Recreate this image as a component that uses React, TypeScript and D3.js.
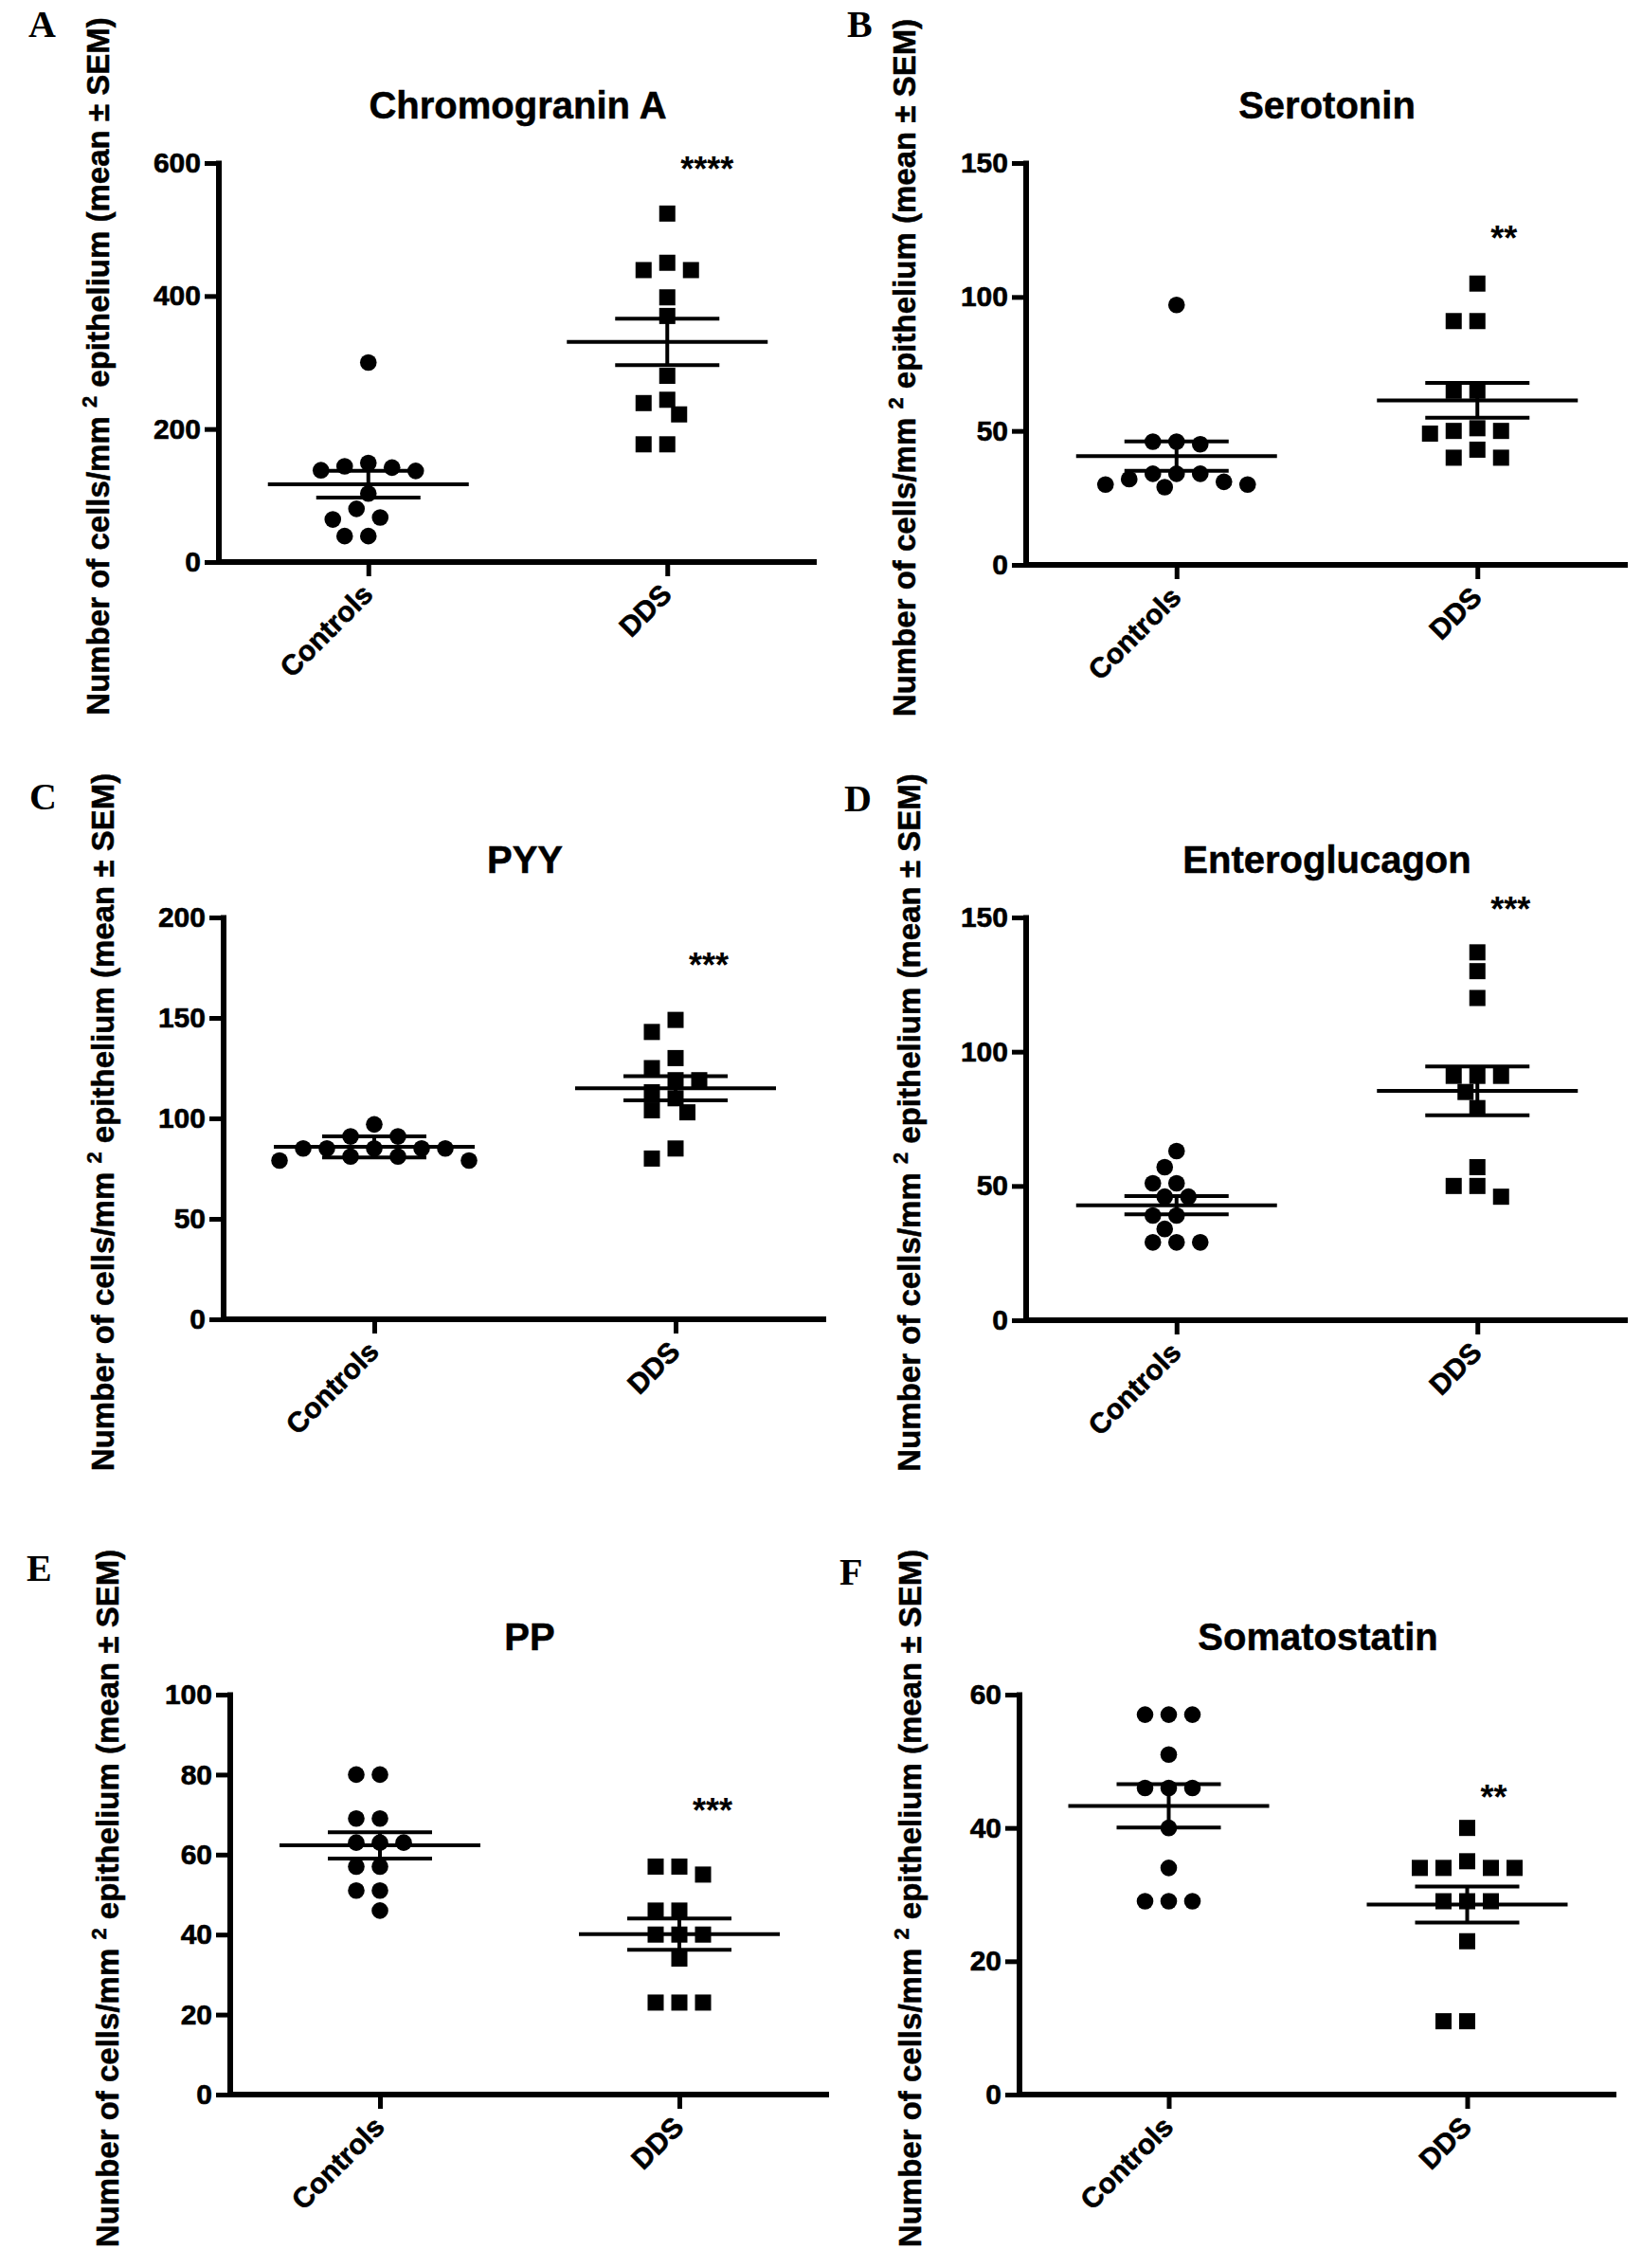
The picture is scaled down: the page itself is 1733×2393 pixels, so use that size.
import { useEffect, useRef } from "react"
import * as d3 from "d3"

const groups = ["Controls", "DDS"]

// Chromogranin A
const chromograninControls = [300, 149, 144, 142, 138, 137, 103, 80, 67, 64, 39, 39]
const chromograninDds = [524, 450, 439, 439, 398, 370, 280, 244, 239, 222, 177, 177]
const chromograninMean = [117, 331]
const chromograninSem = [20, 35]
const chromograninTicks = [0, 200, 400, 600]

// Serotonin
const serotoninControls = [97, 46, 46, 45, 34, 34, 34, 32, 31, 30, 30, 29]
const serotoninDds = [105, 91, 91, 65, 65, 51, 50, 50, 49, 43, 40, 40]
const serotoninMean = [40.6, 61.4]
const serotoninSem = [5.5, 6.5]
const serotoninTicks = [0, 50, 100, 150]

// PYY
const pyyControls = [97, 91, 91, 85, 85, 85, 85, 85, 81, 81, 79, 79]
const pyyDds = [149, 143, 130, 125, 119, 119, 113, 110, 104, 103, 85, 80]
const pyyMean = [85.8, 115]
const pyySem = [5.2, 6]
const pyyTicks = [0, 50, 100, 150, 200]

// Enteroglucagon
const enteroglucagonControls = [63, 57, 51, 51, 46, 46, 39, 39, 34, 29, 29, 29]
const enteroglucagonDds = [137, 130, 120, 91, 91, 91, 85, 79, 57, 50, 50, 46]
const enteroglucagonMean = [42.8, 85.4]
const enteroglucagonSem = [3.4, 9.1]
const enteroglucagonTicks = [0, 50, 100, 150]

// PP
const ppControls = [80, 80, 69, 69, 63, 63, 63, 57, 57, 51, 51, 46]
const ppDds = [57, 57, 55, 46, 46, 40, 40, 40, 34, 23, 23, 23]
const ppMean = [62.3, 40.1]
const ppSem = [3.3, 3.9]
const ppTicks = [0, 20, 40, 60, 80, 100]

// Somatostatin
const somatostatinControls = [57, 57, 57, 51, 46, 46, 46, 40, 34, 29, 29, 29]
const somatostatinDds = [40, 35, 34, 34, 34, 34, 29, 29, 29, 23, 11, 11]
const somatostatinMean = [43.3, 28.5]
const somatostatinSem = [3.25, 2.7]
const somatostatinTicks = [0, 20, 40, 60]

const panelLetters = ["A", "B", "C", "D", "E", "F"]
const panelTitles = ["Chromogranin A", "Serotonin", "PYY", "Enteroglucagon", "PP", "Somatostatin"]
const significance = ["****", "**", "***", "***", "***", "**"]
// value level at which the asterisks sit
const significanceLevel = [603, 125, 180, 156, 73, 45.8]

const panels = [
  { controls: chromograninControls, dds: chromograninDds, mean: chromograninMean, sem: chromograninSem, ticks: chromograninTicks },
  { controls: serotoninControls, dds: serotoninDds, mean: serotoninMean, sem: serotoninSem, ticks: serotoninTicks },
  { controls: pyyControls, dds: pyyDds, mean: pyyMean, sem: pyySem, ticks: pyyTicks },
  { controls: enteroglucagonControls, dds: enteroglucagonDds, mean: enteroglucagonMean, sem: enteroglucagonSem, ticks: enteroglucagonTicks },
  { controls: ppControls, dds: ppDds, mean: ppMean, sem: ppSem, ticks: ppTicks },
  { controls: somatostatinControls, dds: somatostatinDds, mean: somatostatinMean, sem: somatostatinSem, ticks: somatostatinTicks },
]

// page layout of each panel
const layout = [
  { axisX: 231, width: 631, yTop: 172, yBottom: 593, letterX: 30, letterY: 39, labelX: 106 },
  { axisX: 1083, width: 635, yTop: 172, yBottom: 596, letterX: 894, letterY: 39, labelX: 957 },
  { axisX: 236, width: 636, yTop: 968, yBottom: 1392, letterX: 31, letterY: 854, labelX: 111 },
  { axisX: 1083, width: 635, yTop: 968, yBottom: 1393, letterX: 891, letterY: 856, labelX: 962 },
  { axisX: 243, width: 632, yTop: 1788, yBottom: 2210, letterX: 28, letterY: 1668, labelX: 116 },
  { axisX: 1076, width: 630, yTop: 1788, yBottom: 2210, letterX: 886, letterY: 1672, labelX: 963 },
]

const WIDTH = 1733
const HEIGHT = 2393
const SANS = "Arial, 'Liberation Sans', Helvetica, sans-serif"
const SERIF = "'Times New Roman', 'Liberation Serif', serif"

// Prism-like spreading of points that would overlap
function swarm(values: number[], y: d3.ScaleLinear<number, number>, minDist = 18, step = 12.5) {
  const placed: { ox: number; py: number }[] = []
  return values.map((v) => {
    const py = y(v)
    for (let k = 0; k < 50; k++) {
      const cands = k === 0 ? [0] : [-k * step, k * step]
      for (const ox of cands) {
        if (placed.every((q) => Math.hypot(q.ox - ox, q.py - py) >= minDist)) {
          placed.push({ ox, py })
          return ox
        }
      }
    }
    return 0
  })
}

export default function App() {
  const svgRef = useRef<SVGSVGElement>(null)

  useEffect(() => {
    if (!svgRef.current) return
    const svg = d3.select(svgRef.current)
    svg.selectAll("*").remove()
    svg.append("rect").attr("width", WIDTH).attr("height", HEIGHT).attr("fill", "#fff")

    panels.forEach((p, i) => {
      const L = layout[i]
      const g = svg.append("g")

      const x = d3
        .scalePoint<string>()
        .domain(groups)
        .range([L.axisX, L.axisX + L.width])
        .padding(0.5)
      const y = d3
        .scaleLinear()
        .domain([0, d3.max(p.ticks) || 1])
        .range([L.yBottom, L.yTop])

      // Points
      const ctrlOff = swarm(p.controls, y)
      const cx0 = x(groups[0]) || 0
      g.selectAll(".ctrl")
        .data(p.controls)
        .join("circle")
        .attr("cx", (_, j) => cx0 + ctrlOff[j])
        .attr("cy", (d) => y(d))
        .attr("r", 8.8)
        .attr("fill", "#000")

      const ddsOff = swarm(p.dds, y)
      const cx1 = x(groups[1]) || 0
      const sq = 17
      g.selectAll(".dds")
        .data(p.dds)
        .join("rect")
        .attr("x", (_, j) => cx1 + ddsOff[j] - sq / 2)
        .attr("y", (d) => y(d) - sq / 2)
        .attr("width", sq)
        .attr("height", sq)
        .attr("fill", "#000")

      // Mean +- SEM
      groups.forEach((grp, gi) => {
        const cx = x(grp) || 0
        const m = p.mean[gi]
        const s = p.sem[gi]
        const bars = [
          { x1: cx - 106, x2: cx + 106, y1: y(m), y2: y(m) },
          { x1: cx - 55, x2: cx + 55, y1: y(m + s), y2: y(m + s) },
          { x1: cx - 55, x2: cx + 55, y1: y(m - s), y2: y(m - s) },
          { x1: cx, x2: cx, y1: y(m - s), y2: y(m + s) },
        ]
        g.selectAll(null)
          .data(bars)
          .join("line")
          .attr("x1", (d) => d.x1)
          .attr("x2", (d) => d.x2)
          .attr("y1", (d) => d.y1)
          .attr("y2", (d) => d.y2)
          .attr("stroke", "#000")
          .attr("stroke-width", 4)
      })

      // Y axis
      const yAxis = g
        .append("g")
        .attr("transform", `translate(${L.axisX},0)`)
        .call(d3.axisLeft(y).tickValues(p.ticks).tickSizeInner(15).tickSizeOuter(0).tickPadding(4))
      yAxis.select(".domain").remove()
      yAxis.selectAll(".tick line").attr("stroke", "#000").attr("stroke-width", 5)
      yAxis
        .selectAll(".tick text")
        .attr("fill", "#000")
        .attr("stroke", "#000")
        .attr("stroke-width", 0.6)
        .attr("font-size", 30)
        .attr("font-weight", "bold")
        .attr("font-family", SANS)

      // X axis
      const xAxis = g
        .append("g")
        .attr("transform", `translate(0,${L.yBottom})`)
        .call(d3.axisBottom(x).tickSizeInner(15).tickSizeOuter(0))
      xAxis.select(".domain").remove()
      xAxis.selectAll(".tick line").attr("stroke", "#000").attr("stroke-width", 5)
      xAxis
        .selectAll(".tick text")
        .attr("y", 0)
        .attr("dy", 0)
        .attr("transform", "translate(6,36) rotate(-45)")
        .attr("text-anchor", "end")
        .attr("fill", "#000")
        .attr("stroke", "#000")
        .attr("stroke-width", 0.6)
        .attr("font-size", 30)
        .attr("font-weight", "bold")
        .attr("font-family", SANS)

      // Axis lines
      g.append("line")
        .attr("x1", L.axisX)
        .attr("x2", L.axisX)
        .attr("y1", L.yBottom + 3)
        .attr("y2", L.yTop - 2.5)
        .attr("stroke", "#000")
        .attr("stroke-width", 6)
      g.append("line")
        .attr("x1", L.axisX - 3)
        .attr("x2", L.axisX + L.width)
        .attr("y1", L.yBottom)
        .attr("y2", L.yBottom)
        .attr("stroke", "#000")
        .attr("stroke-width", 6)

      // Title
      g.append("text")
        .attr("x", L.axisX + L.width / 2)
        .attr("y", L.yTop - 47)
        .attr("text-anchor", "middle")
        .attr("font-family", SANS)
        .attr("font-weight", "bold")
        .attr("font-size", 40)
        .attr("stroke", "#000")
        .attr("stroke-width", 0.5)
        .text(panelTitles[i])

      // Significance stars
      g.append("text")
        .attr("x", cx1 + 14)
        .attr("y", y(significanceLevel[i]) + 21)
        .attr("font-family", SANS)
        .attr("font-weight", "bold")
        .attr("font-size", 36)
        .text(significance[i])

      // Panel letter
      g.append("text")
        .attr("x", L.letterX)
        .attr("y", L.letterY)
        .attr("font-family", SERIF)
        .attr("font-weight", "bold")
        .attr("font-size", 40)
        .text(panelLetters[i])

      // Y axis label
      const label = g
        .append("text")
        .attr("transform", `translate(${L.labelX + 9},${(L.yTop + L.yBottom) / 2 + 4}) rotate(-90)`)
        .attr("text-anchor", "middle")
        .attr("font-family", SANS)
        .attr("font-weight", "bold")
        .attr("font-size", 33)
        .attr("stroke", "#000")
        .attr("stroke-width", 0.5)
      label.append("tspan").text("Number of cells/mm ")
      label.append("tspan").attr("dy", -13).attr("font-size", 22).text("2")
      label.append("tspan").attr("dy", 13).text(" epithelium (mean \u00b1 SEM)")
    })
  }, [])

  return (
    <svg
      ref={svgRef}
      width={WIDTH}
      height={HEIGHT}
      style={{ position: "absolute", left: 0, top: 0, display: "block" }}
    />
  )
}
